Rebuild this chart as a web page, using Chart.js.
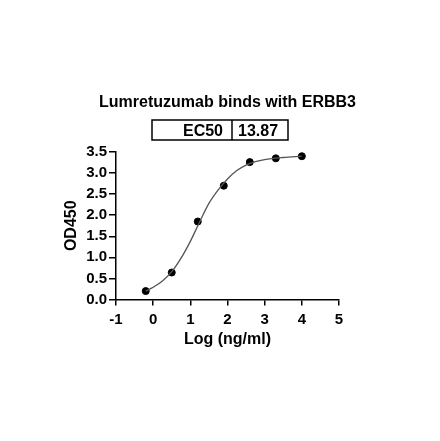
<!DOCTYPE html>
<html>
<head>
<meta charset="utf-8">
<script src="https://cdn.jsdelivr.net/npm/chart.js@4.4.0/dist/chart.umd.min.js"></script>
<style>
  html, body { margin: 0; padding: 0; background: #fff; }
</style>
</head>
<body>
<canvas id="myChart" width="440" height="441"></canvas>
<script>
// measured points (log concentration vs OD450)
const logConc = [-0.2, 0.5, 1.2, 1.9, 2.6, 3.3, 4.0];
const od450 = [0.2, 0.64, 1.85, 2.7, 3.26, 3.35, 3.4];

// fitted curve
const fitX = [-0.2, 0.0, 0.25, 0.5, 0.75, 1.0, 1.25, 1.5, 1.75, 2.0, 2.25, 2.5, 2.75, 3.0, 3.5, 4.0];
const fitY = [0.2, 0.29, 0.44, 0.66, 0.98, 1.38, 1.84, 2.28, 2.6, 2.86, 3.06, 3.19, 3.27, 3.32, 3.37, 3.4];

const xTicks = [-1, 0, 1, 2, 3, 4, 5];
const yTicks = [0, 0.5, 1, 1.5, 2, 2.5, 3, 3.5];

const chartTitle = 'Lumretuzumab binds with ERBB3';
const ec50Label = 'EC50';
const ec50Value = '13.87';

const FONT = "Arial, 'Liberation Sans', sans-serif";
const ctx = document.getElementById('myChart').getContext('2d');

// title and EC50 box above the plot
const header = {
  id: 'header',
  afterDraw(chart) {
    const c = chart.ctx;
    const area = chart.chartArea;
    c.save();
    c.fillStyle = '#000';
    c.font = 'bold 16px ' + FONT;
    c.textAlign = 'center';
    c.textBaseline = 'alphabetic';
    c.fillText(chartTitle, (area.left + area.right) / 2, 106.5);

    const left = 152, right = 288, top = 120, bottom = 140, mid = 232;
    c.strokeStyle = '#000';
    c.lineWidth = 1.5;
    c.strokeRect(left, top, right - left, bottom - top);
    c.beginPath();
    c.moveTo(mid, top);
    c.lineTo(mid, bottom);
    c.stroke();
    c.textAlign = 'right';
    c.fillText(ec50Label, mid - 9, 135.5);
    c.textAlign = 'left';
    c.fillText(ec50Value, mid + 6, 135.5);
    c.restore();
  }
};

new Chart(ctx, {
  type: 'scatter',
  data: {
    datasets: [
      {
        label: 'fit',
        data: fitX.map((x, i) => ({ x: x, y: fitY[i] })),
        showLine: true,
        borderColor: '#555',
        borderWidth: 1.3,
        pointRadius: 0,
        cubicInterpolationMode: 'monotone',
        fill: false,
      },
      {
        label: 'OD450',
        data: logConc.map((x, i) => ({ x: x, y: od450[i] })),
        backgroundColor: '#000',
        borderColor: '#000',
        pointRadius: 3.5,
        pointHoverRadius: 3.5,
      },
    ],
  },
  options: {
    responsive: false,
    animation: false,
    layout: { padding: { left: 0, right: 101, top: 152, bottom: 91.5 } },
    plugins: {
      legend: { display: false },
      tooltip: { enabled: false },
    },
    scales: {
      x: {
        type: 'linear',
        min: -1,
        max: 5,
        afterFit: s => { s.height = 50; },
        afterBuildTicks: s => { s.ticks = xTicks.map(v => ({ value: v })); },
        ticks: {
          color: '#000',
          font: { family: FONT, size: 15, weight: 'bold' },
          padding: 5,
          maxRotation: 0,
          callback: v => String(v),
        },
        grid: { drawOnChartArea: false, drawTicks: true, tickLength: 6, color: '#000', lineWidth: 1.5 },
        border: { color: '#000', width: 1.5 },
        title: {
          display: true,
          text: 'Log (ng/ml)',
          color: '#000',
          font: { family: FONT, size: 16, weight: 'bold' },
          padding: { top: 0, bottom: 0 },
        },
      },
      y: {
        type: 'linear',
        min: 0,
        max: 3.5,
        afterFit: s => { s.width = 116; },
        afterBuildTicks: s => { s.ticks = yTicks.map(v => ({ value: v })); },
        ticks: {
          color: '#000',
          font: { family: FONT, size: 15, weight: 'bold' },
          padding: 2,
          callback: v => v.toFixed(1),
        },
        grid: { drawOnChartArea: false, drawTicks: true, tickLength: 7, color: '#000', lineWidth: 1.5 },
        border: { color: '#000', width: 1.5 },
        title: {
          display: true,
          text: 'OD450',
          color: '#000',
          font: { family: FONT, size: 16, weight: 'bold' },
          padding: { top: 62, bottom: 0 },
        },
      },
    },
  },
  plugins: [header],
});
</script>
</body>
</html>
